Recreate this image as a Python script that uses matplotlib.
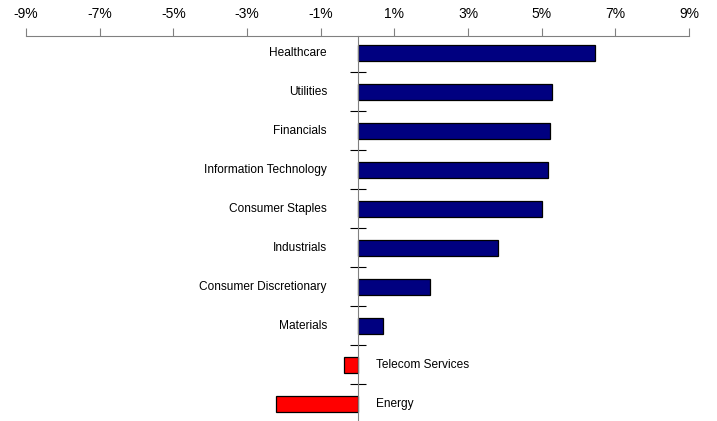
import matplotlib
matplotlib.use('Agg')
from matplotlib import pyplot as plt
import numpy as np

plt.rcParams['font.family'] = ['Liberation Sans', 'DejaVu Sans']

sectors = ['Healthcare', 'Utilities', 'Financials', 'Information Technology',
           'Consumer Staples', 'Industrials', 'Consumer Discretionary',
           'Materials', 'Telecom Services', 'Energy']
returns = [6.46, 5.29, 5.22, 5.17, 5.00, 3.82, 1.98, 0.68, -0.38, -2.21]
xticks = [-9, -7, -5, -3, -1, 1, 3, 5, 7, 9]

colors = ['#000080' if v >= 0 else '#FF0000' for v in returns]
ypos = np.arange(len(sectors))

fig = plt.figure(figsize=(7.17, 4.21), dpi=100)
ax = fig.add_axes([26/717, 0, (689-26)/717, 385/421])

ax.barh(ypos, returns, height=0.4, color=colors, edgecolor='black', linewidth=0.9, zorder=3)

ax.set_xlim(-9, 9)
ax.set_ylim(9.44, -0.43)

# x axis on top
ax.xaxis.tick_top()
ax.set_xticks(xticks)
ax.set_xticklabels([f'{t}%' for t in xticks], fontsize=10)
ax.tick_params(axis='x', direction='out', length=6, width=0.8, color='#808080', pad=4.5)

# category axis through zero
ax.spines['left'].set_position(('data', 0))
ax.spines['left'].set_color('#808080')
ax.spines['left'].set_zorder(4)
ax.spines['top'].set_color('#808080')
ax.spines['right'].set_visible(False)
ax.spines['bottom'].set_visible(False)
ax.set_yticks(np.arange(0.5, len(sectors) - 0.5, 1))
ax.set_yticklabels([])
ax.tick_params(axis='y', direction='inout', length=11.5, width=0.8, color='black')

for i, (name, v) in enumerate(zip(sectors, returns)):
    if v >= 0:
        ax.annotate(name, (0, i), xytext=(-22, 0), textcoords='offset points',
                    ha='right', va='center', fontsize=8.6)
    else:
        ax.annotate(name, (0, i), xytext=(13.5, 0), textcoords='offset points',
                    ha='left', va='center', fontsize=8.6)

fig.savefig('out.png', dpi=100)
